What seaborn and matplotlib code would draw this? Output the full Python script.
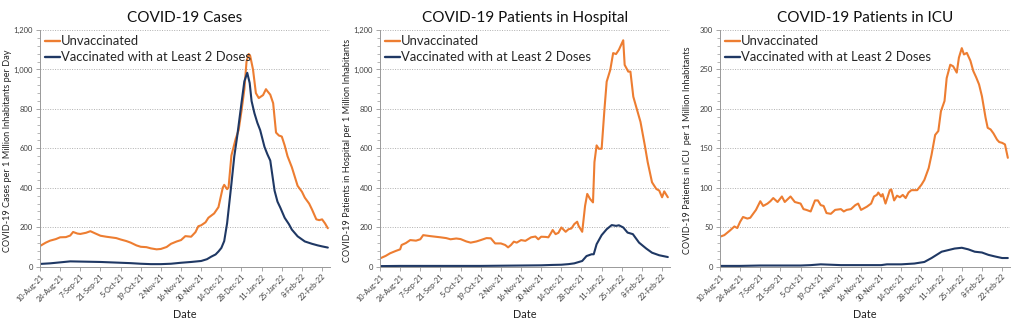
import matplotlib
matplotlib.use("Agg")
import matplotlib.pyplot as plt
import pandas as pd
import seaborn as sns
from matplotlib.ticker import FuncFormatter, AutoMinorLocator, MultipleLocator

# ---- data (day 0 = 10-Aug-21) ----
tick_days = [0, 14, 28, 42, 56, 70, 84, 98, 112, 126, 140, 154, 168, 182, 196]
tick_labels = ["10-Aug-21", "24-Aug-21", "7-Sep-21", "21-Sep-21", "5-Oct-21",
               "19-Oct-21", "2-Nov-21", "16-Nov-21", "30-Nov-21", "14-Dec-21",
               "28-Dec-21", "11-Jan-22", "25-Jan-22", "8-Feb-22", "22-Feb-22"]

series_names = ["Unvaccinated", "Vaccinated with at Least 2 Doses"]

# Cases per 1M per day
cases_unvax_day = [0, 4, 7, 11, 14, 18, 21, 23, 26, 28, 32, 35, 38, 42, 46, 49, 53, 56, 60,
                   63, 67, 70, 74, 77, 81, 84, 88, 91, 95, 98, 101, 105, 108, 110, 112, 115,
                   117, 121, 124, 127, 128, 130, 131, 133, 136, 138, 140, 142, 143.5, 145,
                   146, 148, 150, 152, 155, 157, 158, 160, 162, 164, 166, 168, 170, 172, 175,
                   179, 182, 184, 187, 189, 192, 194, 196, 198, 200]
cases_unvax = [105, 122, 132, 140, 149, 150, 158, 176, 168, 166, 172, 180, 170, 157, 152, 149,
               145, 138, 130, 122, 108, 101, 99, 93, 88, 90, 100, 116, 128, 135, 155, 152, 175,
               205, 210, 225, 248, 270, 302, 401, 415, 393, 401, 564, 649, 692, 790, 900, 1040,
               1078, 1070, 1000, 880, 855, 870, 900, 890, 872, 829, 680, 665, 660, 615, 560,
               504, 410, 380, 350, 320, 290, 240, 236, 240, 220, 195]
cases_vax_day = [0, 7, 14, 21, 28, 35, 42, 49, 56, 63, 70, 77, 84, 91, 98, 105, 112, 116, 119,
                 122, 124, 126, 128, 130, 133, 135, 137, 140, 142, 144, 145.7, 147, 149, 151,
                 153, 156, 158, 160, 163, 165, 167, 170, 173, 175, 179, 184, 189, 193, 196, 200]
cases_vax = [14, 17, 22, 27, 26, 25, 24, 22, 20, 18, 15, 13, 13, 15, 20, 24, 29, 38, 51, 62,
             77, 95, 130, 220, 420, 560, 660, 830, 940, 983, 931, 840, 778, 730, 692, 607,
             570, 538, 385, 330, 299, 248, 215, 188, 154, 128, 116, 108, 103, 97]

# Hospital patients per 1M
hosp_unvax_day = [0, 4, 7, 11, 14, 15, 18, 21, 25, 28, 30, 35, 42, 46, 49, 53, 56, 60, 63, 67,
                  70, 74, 77, 80, 84, 87, 89, 91, 93, 95, 98, 101, 105, 108, 110, 112, 115,
                  117, 119, 120, 122, 124, 126, 129, 131, 133, 135, 137, 138, 140.5, 142.5,
                  144, 146, 148, 149, 150.5, 152, 154, 156, 157.5, 160, 162, 164, 166, 169,
                  170, 172.5, 174, 176, 179, 181, 184, 186, 189, 192, 194, 196, 197.5, 200]
hosp_unvax = [42, 55, 68, 80, 88, 110, 120, 135, 132, 139, 160, 155, 149, 145, 139, 143, 140,
              128, 122, 128, 135, 145, 144, 118, 118, 110, 98, 110, 127, 122, 135, 131, 149,
              153, 139, 152, 151, 149, 173, 186, 165, 172, 199, 177, 190, 194, 216, 228, 207,
              177, 309, 369, 343, 326, 530, 615, 598, 598, 802, 938, 998, 1083, 1078, 1100,
              1148, 1023, 989, 989, 862, 785, 734, 615, 530, 428, 394, 386, 352, 382, 352]
hosp_vax_day = [0, 14, 28, 42, 56, 70, 84, 98, 112, 120, 126, 131, 135, 140.5, 143.5, 147,
                148.5, 150.5, 154, 157.5, 161, 164, 166, 169, 172, 175.7, 180, 185, 189, 194, 200]
hosp_vax = [3, 4, 4, 4, 4, 4, 5, 6, 7, 9, 10, 13, 17, 29, 54, 63, 63, 114, 160, 190, 211, 207,
            210, 199, 173, 165, 122, 92, 71, 58, 49]

# ICU patients per 1M
icu_unvax_day = [0, 3, 7, 10, 12, 14, 16, 19, 21, 25, 28, 30, 33, 35, 37, 40, 43, 45, 49, 52,
                 56, 58, 60, 63, 66, 68, 70, 72, 74, 77, 80, 84, 86, 88, 91, 94, 96, 98, 100,
                 102, 105, 107, 109, 110, 112, 113, 115, 118, 119, 121, 123, 125, 127, 129,
                 131, 133, 137, 140, 142, 145, 147, 149.5, 151.7, 153.5, 156, 157.5, 160, 162,
                 164.5, 166, 168, 169.5, 171.5, 174, 176, 178, 180, 182, 184.5, 186, 188, 190,
                 192.5, 194, 196, 198, 200]
icu_unvax = [38, 40, 46, 51, 49, 57, 63, 61, 62, 72, 83, 77, 80, 83, 87, 82, 89, 82, 89, 82,
             80, 73, 72, 70, 84, 84, 78, 77, 68, 67, 72, 73, 70, 72, 73, 78, 80, 72, 74, 76,
             80, 89, 91, 94, 89, 92, 80, 97, 98, 84, 90, 88, 91, 87, 94, 97, 97, 104, 110,
             125, 142, 167, 172, 197, 210, 239, 256, 254, 246, 265, 277, 269, 271, 261, 248,
             240, 231, 216, 189, 176, 174, 169, 161, 158, 157, 155, 138]
icu_vax_day = [0, 14, 28, 42, 56, 63, 70, 77, 84, 98, 112, 116, 126, 135, 142, 147, 150.5, 154,
               158.5, 163, 168, 172.5, 177, 182, 186.5, 191, 196, 200]
icu_vax = [1, 1, 1.5, 1.5, 1.5, 2, 3, 2.5, 2, 2, 2, 3, 3, 4, 6, 11, 15, 19, 21, 23, 24, 22,
           19, 18, 15, 13, 11, 11]

titles = ["COVID-19 Cases", "COVID-19 Patients in Hospital", "COVID-19 Patients in ICU"]
ylabels = ["COVID-19 Cases per 1 Million Inhabitants per Day",
           "COVID-19 Patients in Hospital per 1 Million Inhabitants",
           "COVID-19 Patients in ICU  per 1 Million Inhabitants"]
ymax = [1200, 1200, 300]
ystep = [200, 200, 50]

panels = [
    ((cases_unvax_day, cases_unvax), (cases_vax_day, cases_vax)),
    ((hosp_unvax_day, hosp_unvax), (hosp_vax_day, hosp_vax)),
    ((icu_unvax_day, icu_unvax), (icu_vax_day, icu_vax)),
]

# ---- style ----
sns.set_theme(style="white")
plt.rcParams["font.family"] = ["Lato", "DejaVu Sans"]

palette = {series_names[0]: "#ED7D31", series_names[1]: "#1F3864"}

W, H = 1024, 322
fig = plt.figure(figsize=(W / 100, H / 100), dpi=100)
lefts = [40, 380, 720]
ax_w, ax_top, ax_bot = 290, 30, 266.7

for i, (left, (unv, vac)) in enumerate(zip(lefts, panels)):
    ax = fig.add_axes([left / W, (H - ax_bot) / H, ax_w / W, (ax_bot - ax_top) / H])
    df = pd.concat([
        pd.DataFrame({"day": unv[0], "value": unv[1], "group": series_names[0]}),
        pd.DataFrame({"day": vac[0], "value": vac[1], "group": series_names[1]}),
    ])
    sns.lineplot(data=df, x="day", y="value", hue="group", palette=palette,
                 estimator=None, linewidth=1.5, ax=ax)

    ax.set_xlim(0, 201.5)
    ax.set_ylim(0, ymax[i])
    ax.set_xticks(tick_days)
    ax.set_xticklabels(tick_labels, rotation=45, ha="right", rotation_mode="anchor",
                       fontsize=5.2, color="#404040")
    ax.yaxis.set_major_locator(MultipleLocator(ystep[i]))
    ax.yaxis.set_minor_locator(AutoMinorLocator(5))
    ax.yaxis.set_major_formatter(FuncFormatter(lambda v, p: f"{int(v):,}"))
    ax.tick_params(axis="y", which="major", labelsize=5.5, labelcolor="#404040",
                   length=3, width=0.6, color="#999999", left=True, pad=2)
    ax.tick_params(axis="y", which="minor", length=2, width=0.5, color="#999999", left=True)
    ax.tick_params(axis="x", which="major", length=3, width=0.6, color="#999999",
                   bottom=True, pad=1.5)

    ax.yaxis.grid(True, linestyle=(0, (1, 1.5)), color="#b0b0b0", linewidth=0.7)
    ax.xaxis.grid(False)
    for side in ("top", "right"):
        ax.spines[side].set_visible(False)
    for side in ("left", "bottom"):
        ax.spines[side].set_color("#999999")
        ax.spines[side].set_linewidth(0.7)

    ax.set_title(titles[i], fontsize=11, pad=6, color="#111111")
    ax.set_xlabel("Date", fontsize=7.8, color="#222222")
    ax.xaxis.set_label_coords(0.5, -0.18)
    ax.set_ylabel(ylabels[i], fontsize=6.6, color="#222222")
    ax.yaxis.set_label_coords(-0.095, 0.49)

    leg = ax.legend(loc="upper left", frameon=False, fontsize=9.4, handlelength=1.15,
                    handletextpad=0.05, labelspacing=0.3, borderaxespad=0.25,
                    borderpad=0.15)
    for line in leg.get_lines():
        line.set_linewidth(1.7)

fig.savefig("out.png", dpi=100, facecolor="white")
